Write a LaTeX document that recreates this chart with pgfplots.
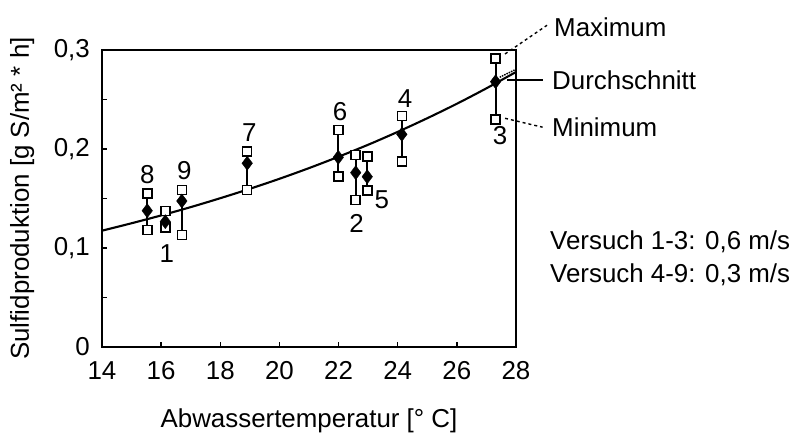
\documentclass[border=0pt]{standalone}
\usepackage{pgfplots}
\pgfplotsset{compat=1.18}
\usepackage{pgfplotstable}
\usepackage{fontspec}
\setmainfont{Liberation Sans}

\pgfplotstableread{
x     min    mean   max
15.53 0.1182 0.1377 0.1553
16.14 0.1209 0.1266 0.1374
16.70 0.1131 0.1475 0.1586
18.91 0.1586 0.1856 0.1973
21.99 0.1720 0.1916 0.2192
22.58 0.1485 0.1761 0.1939
22.97 0.1579 0.1720 0.1922
24.14 0.1872 0.2148 0.2333
27.31 0.2300 0.2680 0.2916
}\data

\pgfplotstableread{
x  y
14 0.1175
15 0.1250
16 0.1329
17 0.1413
18 0.1503
19 0.1598
20 0.1699
21 0.1807
22 0.1922
23 0.2043
24 0.2173
25 0.2311
26 0.2457
27 0.2613
28 0.2778
}\curve

\begin{document}
\fontsize{25.9}{31}\selectfont
\begin{tikzpicture}[font=\fontsize{25.9}{31}\selectfont]
\useasboundingbox (0pt,0pt) rectangle (796pt,-435pt);
\begin{axis}[
  at={(102pt,-347pt)}, anchor=south west,
  scale only axis, width=414pt, height=297pt,
  xmin=14, xmax=28, ymin=0, ymax=0.3,
  xtick={14,16,18,20,22,24,26,28},
  xticklabels={14,16,18,20,22,24,26,28},
  ytick={0,0.1,0.2,0.3},
  yticklabels={0,{0,1},{0,2},{0,3}},
  minor ytick={0.05,0.15,0.25},
  xtick pos=bottom, ytick pos=left, tick align=inside,
  major tick length=5pt, minor tick length=5pt,
  every tick/.style={line width=1.5pt, black},
  axis line style={line width=1.8pt},
  xticklabel style={anchor=north, inner sep=0pt, yshift=-14pt},
  yticklabel style={anchor=east, inner sep=0pt, xshift=-12pt},
  xlabel={Abwassertemperatur [° C]},
  ylabel={Sulfidproduktion [g S/m² * h]},
  xlabel style={at={(axis description cs:0.5,-0.249)}, anchor=center, inner sep=0pt},
  ylabel style={at={(axis description cs:-0.193,0.5)}, anchor=center, inner sep=0pt},
  clip=false,
  unbounded coords=jump,
]
\addplot[black, line width=2.1pt, smooth] table[x=x, y=y] {\curve};
\addplot[black, densely dotted, line width=1.5pt] coordinates {(27.45,0.2725) (28,0.2805)};
% whiskers (min to max)
\addplot[black, line width=2pt] coordinates {
(15.53,0.1182) (15.53,0.1553) (nan,nan)
(16.14,0.1209) (16.14,0.1374) (nan,nan)
(16.70,0.1131) (16.70,0.1586) (nan,nan)
(18.91,0.1586) (18.91,0.1973) (nan,nan)
(21.99,0.1720) (21.99,0.2192) (nan,nan)
(22.58,0.1485) (22.58,0.1939) (nan,nan)
(22.97,0.1579) (22.97,0.1922) (nan,nan)
(24.14,0.1872) (24.14,0.2333) (nan,nan)
(27.31,0.2300) (27.31,0.2916)
};
\addplot[only marks, mark=square*, mark size=4.5pt,
  mark options={fill=white, draw=black, line width=1.6pt}]
  table[x=x, y=max] {\data};
\addplot[only marks, mark=square*, mark size=4.5pt,
  mark options={fill=white, draw=black, line width=1.6pt}]
  table[x=x, y=min] {\data};
\addplot[only marks, mark=diamond*, mark size=7pt,
  mark options={fill=black, draw=black}]
  table[x=x, y=mean] {\data};

\node[inner sep=0pt] at (axis cs:15.53,0.1737) {8};
\node[inner sep=0pt] at (axis cs:16.78,0.178) {9};
\node[inner sep=0pt] at (axis cs:16.19,0.0946) {1};
\node[inner sep=0pt] at (axis cs:18.98,0.2165) {7};
\node[inner sep=0pt] at (axis cs:22.05,0.2377) {6};
\node[inner sep=0pt] at (axis cs:22.61,0.125) {2};
\node[inner sep=0pt] at (axis cs:23.46,0.149) {5};
\node[inner sep=0pt] at (axis cs:24.25,0.251) {4};
\node[inner sep=0pt] at (axis cs:27.46,0.214) {3};

\draw[black, dashed, line width=1.4pt] (axis cs:27.63,0.296) -- (axis cs:29.05,0.325);
\draw[black, line width=1.4pt] (axis cs:27.69,0.2697) -- (axis cs:28.9,0.2697);
\draw[black, dashed, line width=1.4pt] (axis cs:27.63,0.231) -- (axis cs:28.9,0.222);
\end{axis}
\node[anchor=west, inner sep=0pt] at (554pt,-27pt) {Maximum};
\node[anchor=west, inner sep=0pt] at (552pt,-80pt) {Durchschnitt};
\node[anchor=west, inner sep=0pt] at (552pt,-127pt) {Minimum};
\node[anchor=west, inner sep=0pt] at (550pt,-242pt) {Versuch 1-3: 0,6 m/s};
\node[anchor=west, inner sep=0pt] at (550pt,-275pt) {Versuch 4-9: 0,3 m/s};
\end{tikzpicture}
\end{document}
